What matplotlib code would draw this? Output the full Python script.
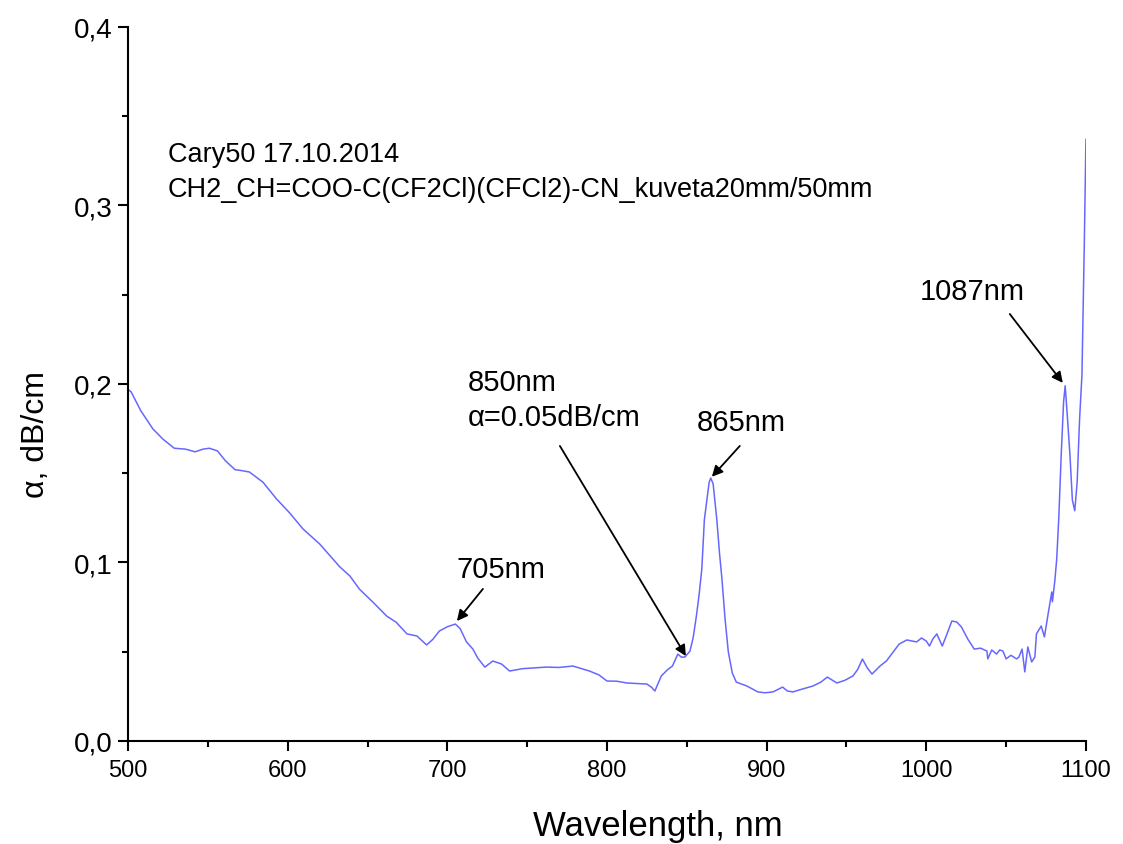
import matplotlib
matplotlib.use("Agg")
import matplotlib.pyplot as plt
from matplotlib.ticker import MultipleLocator, FuncFormatter

plt.rcParams['font.family'] = ['Liberation Sans', 'DejaVu Sans']

wavelength = [500, 502, 508, 515.6, 522, 529, 536, 542, 547, 551, 556, 561, 567, 571, 576, 584.5,
              593, 601, 609.6, 620, 632.7, 639, 645, 653.4, 662, 668, 674.7, 681, 687, 691, 695,
              700, 705, 708, 712, 716, 719, 723.5, 728.5, 734, 739, 747, 755, 762, 770, 778.6,
              789, 795, 800, 806, 812.5, 819, 825, 828, 830, 834, 838, 841, 844.4, 846.5, 848.8,
              852, 854, 856, 857.7, 859.4, 861, 862.6, 864, 865, 866.5, 868.8, 870.5, 872, 874,
              876, 878.5, 881, 887.6, 894.5, 899, 904, 910, 913, 916.4, 922, 929, 934, 938, 944,
              949, 954, 957, 960, 963, 966, 971, 975, 983, 987.8, 994, 997, 1000, 1002, 1004,
              1006.6, 1010, 1013, 1016, 1019, 1022, 1026, 1030, 1034, 1038, 1038.5, 1041, 1044,
              1046, 1048, 1050, 1053, 1056.6, 1058, 1060, 1061.7, 1063.6, 1066, 1068, 1069, 1072,
              1074, 1076, 1078.6, 1079, 1080.5, 1081.7, 1083, 1084.5, 1086, 1087, 1088.5, 1090,
              1091.5, 1093, 1094.5, 1096, 1097.5, 1099, 1100]
alpha = [0.197, 0.1955, 0.185, 0.1748, 0.169, 0.164, 0.1635, 0.162, 0.1635, 0.164, 0.1625, 0.157,
         0.152, 0.1515, 0.1507, 0.145, 0.1356, 0.128, 0.1188, 0.1104, 0.0975, 0.0924, 0.085,
         0.0778, 0.070, 0.0665, 0.060, 0.0588, 0.0538, 0.057, 0.0616, 0.064, 0.0655, 0.063,
         0.0555, 0.0515, 0.0465, 0.0414, 0.0448, 0.0431, 0.0392, 0.0405, 0.041, 0.0414, 0.0412,
         0.042, 0.0392, 0.037, 0.0336, 0.0335, 0.0325, 0.0322, 0.0319, 0.030, 0.028, 0.0364,
         0.040, 0.042, 0.0487, 0.047, 0.047, 0.0504, 0.058, 0.070, 0.082, 0.0964, 0.124, 0.135,
         0.145, 0.1473, 0.144, 0.124, 0.105, 0.0908, 0.068, 0.0499, 0.038, 0.033, 0.0308,
         0.0275, 0.027, 0.0275, 0.0302, 0.028, 0.0275, 0.029, 0.0308, 0.033, 0.0358, 0.0325,
         0.034, 0.0364, 0.040, 0.0459, 0.041, 0.0375, 0.042, 0.0448, 0.0543, 0.0566, 0.0555,
         0.0577, 0.056, 0.0532, 0.057, 0.060, 0.0532, 0.060, 0.0672, 0.0667, 0.0639, 0.0571,
         0.0515, 0.052, 0.0504, 0.046, 0.051, 0.0487, 0.051, 0.0504, 0.046, 0.048, 0.046, 0.047,
         0.0515, 0.0387, 0.0527, 0.0443, 0.047, 0.060, 0.0644, 0.0583, 0.0695, 0.0835, 0.078,
         0.0896, 0.102, 0.125, 0.16, 0.19, 0.199, 0.18, 0.16, 0.135, 0.129, 0.145, 0.18, 0.205,
         0.28, 0.337]

x_ticks = [500, 600, 700, 800, 900, 1000, 1100]
y_ticks = [0.0, 0.1, 0.2, 0.3, 0.4]

fig = plt.figure(figsize=(11.23, 8.45), dpi=100)
ax = fig.add_axes([0.114, 0.1219, 0.853, 0.845])
ax.plot(wavelength, alpha, color='#6767ff', lw=1.1)

ax.set_xlim(500, 1100)
ax.set_ylim(0, 0.4)
ax.set_xticks(x_ticks)
ax.set_yticks(y_ticks)
ax.xaxis.set_minor_locator(MultipleLocator(50))
ax.yaxis.set_minor_locator(MultipleLocator(0.05))
ax.yaxis.set_major_formatter(FuncFormatter(lambda v, p: f"{v:.1f}".replace('.', ',')))
for s in ['top', 'right']:
    ax.spines[s].set_visible(False)
for s in ['left', 'bottom']:
    ax.spines[s].set_linewidth(1.5)
ax.tick_params(which='major', direction='out', length=7, width=1.5)
ax.tick_params(which='minor', direction='out', length=4, width=1.5)
ax.tick_params(axis='x', labelsize=17, pad=6)
ax.tick_params(axis='y', labelsize=20, pad=4)
ax.set_xlabel('Wavelength, nm', fontsize=25)
ax.xaxis.set_label_coords(0.553, -0.095)
ax.set_ylabel('α, dB/cm', fontsize=23)
ax.yaxis.set_label_coords(-0.08, 0.43)

fs_head = 19.5
fs = 21
ax.text(525, 0.3288, 'Cary50 17.10.2014', fontsize=fs_head, va='center', ha='left')
ax.text(525, 0.3092, 'CH2_CH=COO-C(CF2Cl)(CFCl2)-CN_kuveta20mm/50mm', fontsize=fs_head, va='center', ha='left')
ax.text(706, 0.0964, '705nm', fontsize=fs, va='center', ha='left')
ax.text(712.9, 0.201, '850nm', fontsize=fs, va='center', ha='left')
ax.text(712.9, 0.1815, 'α=0.05dB/cm', fontsize=fs, va='center', ha='left')
ax.text(856.3, 0.1787, '865nm', fontsize=fs, va='center', ha='left')
ax.text(995.9, 0.252, '1087nm', fontsize=fs, va='center', ha='left')

arrows = [((706, 0.0672), (722.3, 0.0852)),
          ((849.4, 0.0476), (770.5, 0.1653)),
          ((865.7, 0.148), (883.2, 0.1653)),
          ((1085.5, 0.2006), (1052.3, 0.2392))]
for tip, tail in arrows:
    ax.annotate('', xy=tip, xytext=tail,
                arrowprops=dict(arrowstyle='-|>', color='black', lw=1.3,
                                mutation_scale=16, shrinkA=0, shrinkB=0))

fig.savefig('out.png', dpi=100)
